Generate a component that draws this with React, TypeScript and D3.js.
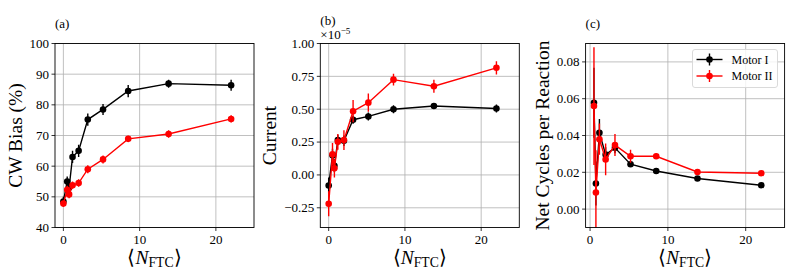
import React from "react";
import * as d3 from "d3";

// ---- data ----
const nFtc = [0, 0.5, 0.75, 1.2, 2.0, 3.2, 5.2, 8.5, 13.8, 22.0];
const biasMotorI = [48.5, 55.0, 53.0, 63.0, 65.0, 75.2, 78.5, 84.5, 86.9, 86.4];
const biasMotorIErr = [1.5, 1.6, 1.5, 2.0, 2.0, 2.0, 1.8, 2.0, 1.3, 1.8];
const biasMotorII = [47.8, 52.3, 50.8, 53.8, 54.5, 59.0, 62.2, 68.9, 70.5, 75.4];
const biasMotorIIErr = [1.0, 1.3, 1.3, 1.2, 1.2, 1.3, 1.3, 1.0, 1.2, 1.2];

const currentMotorI = [-0.08, 0.15, 0.07, 0.265, 0.26, 0.42, 0.445, 0.5, 0.525, 0.505];
const currentMotorIErr = [0.06, 0.05, 0.05, 0.04, 0.04, 0.03, 0.03, 0.03, 0.02, 0.03];
const currentMotorII = [-0.22, 0.157, 0.05, 0.252, 0.265, 0.485, 0.55, 0.725, 0.675, 0.815];
const currentMotorIIErr = [0.095, 0.085, 0.07, 0.06, 0.075, 0.085, 0.07, 0.045, 0.05, 0.05];

const nFtcCycles = [0.5, 0.75, 1.2, 2.0, 3.2, 5.2, 8.5, 13.8, 22.0];
const cyclesMotorI = [0.0578, 0.0139, 0.0415, 0.0296, 0.0333, 0.0244, 0.0207, 0.0166, 0.013];
const cyclesMotorIErr = [0.019, 0.012, 0.0075, 0.004, 0.003, 0.0015, 0.001, 0.0008, 0.0008];
const cyclesMotorII = [0.056, 0.009, 0.038, 0.027, 0.0348, 0.0287, 0.0287, 0.0202, 0.0195];
const cyclesMotorIIErr = [0.032, 0.023, 0.0085, 0.0086, 0.006, 0.0035, 0.0015, 0.001, 0.001];

const biasTicks = [40, 50, 60, 70, 80, 90, 100];
const currentTicks = [-0.25, 0, 0.25, 0.5, 0.75, 1.0];
const cyclesTicks = [0, 0.02, 0.04, 0.06, 0.08];
const xTicks = [0, 10, 20];
const seriesNames = ["Motor I", "Motor II"];
const seriesColors = ["#000000", "#ff0000"];

const FONT = "'Liberation Serif', 'Times New Roman', serif";
const TICK_FS = 13;
const LABEL_FS = 19.5;
const TITLE_FS = 13;
const LEGEND_FS = 12;

type Series = { x: number[]; y: number[]; e: number[]; color: string };

function Panel(props: {
  id: string;
  left: number;
  xDomain: [number, number];
  yDomain: [number, number];
  yTicks: number[];
  yFmt: (v: number) => string;
  series: Series[];
  title: string;
  titleY: number;
  ylabel: string;
  ylabelX: number;
  offsetText?: boolean;
  legend?: boolean;
}) {
  const top = 43.5, bottom = 227.5, width = 199;
  const x = d3.scaleLinear().domain(props.xDomain).range([props.left, props.left + width]);
  const y = d3.scaleLinear().domain(props.yDomain).range([bottom, top]);
  const line = d3
    .line<[number, number]>()
    .x((d) => x(d[0]))
    .y((d) => y(d[1]));
  const cx = props.left + width / 2;
  const cy = (top + bottom) / 2;
  return (
    <g>
      <defs>
        <clipPath id={props.id}>
          <rect x={props.left} y={top} width={width} height={bottom - top} />
        </clipPath>
      </defs>
      {xTicks.map((t) => (
        <line key={"gx" + t} x1={x(t)} x2={x(t)} y1={top} y2={bottom} stroke="#b0b0b0" strokeWidth={0.8} />
      ))}
      {props.yTicks.map((t) => (
        <line key={"gy" + t} x1={props.left} x2={props.left + width} y1={y(t)} y2={y(t)} stroke="#b0b0b0" strokeWidth={0.8} />
      ))}
      <g clipPath={`url(#${props.id})`}>
        {props.series.map((s, si) => (
          <g key={si}>
            <path d={line(s.x.map((v, i) => [v, s.y[i]]))!} fill="none" stroke={s.color} strokeWidth={1.4} />
            {s.x.map((v, i) => (
              <line key={"e" + i} x1={x(v)} x2={x(v)} y1={y(s.y[i] - s.e[i])} y2={y(s.y[i] + s.e[i])} stroke={s.color} strokeWidth={1.4} />
            ))}
            {s.x.map((v, i) => (
              <circle key={"c" + i} cx={x(v)} cy={y(s.y[i])} r={3.3} fill={s.color} />
            ))}
          </g>
        ))}
      </g>
      <rect x={props.left} y={top} width={width} height={bottom - top} fill="none" stroke="#000" strokeWidth={0.9} />
      {xTicks.map((t) => (
        <g key={"xt" + t}>
          <line x1={x(t)} x2={x(t)} y1={bottom} y2={bottom + 3.5} stroke="#000" strokeWidth={0.8} />
          <text x={x(t)} y={bottom + 16} textAnchor="middle" fontSize={TICK_FS} fontFamily={FONT}>
            {t}
          </text>
        </g>
      ))}
      {props.yTicks.map((t) => (
        <g key={"yt" + t}>
          <line x1={props.left - 3.5} x2={props.left} y1={y(t)} y2={y(t)} stroke="#000" strokeWidth={0.8} />
          <text x={props.left - 6} y={y(t) + TICK_FS * 0.34} textAnchor="end" fontSize={TICK_FS} fontFamily={FONT}>
            {props.yFmt(t)}
          </text>
        </g>
      ))}
      <text x={cx} y={264} textAnchor="middle" fontSize={LABEL_FS} fontFamily={FONT}>
        ⟨<tspan fontStyle="italic">N</tspan>
        <tspan fontSize={LABEL_FS * 0.7} dy={3}>FTC</tspan>
        <tspan dy={-3}>⟩</tspan>
      </text>
      <text
        transform={`translate(${props.ylabelX},${cy}) rotate(-90)`}
        textAnchor="middle"
        fontSize={LABEL_FS}
        fontFamily={FONT}
      >
        {props.ylabel}
      </text>
      <text x={props.left} y={props.titleY} fontSize={TITLE_FS} fontFamily={FONT}>
        {props.title}
      </text>
      {props.offsetText && (
        <text x={props.left} y={39} fontSize={TICK_FS} fontFamily={FONT}>
          ×10<tspan fontSize={TICK_FS * 0.7} dy={-5}>−5</tspan>
        </text>
      )}
      {props.legend && (
        <g>
          <rect x={692.5} y={49.5} width={85} height={38} rx={2.5} fill="#fff" fillOpacity={0.8} stroke="#d6d6d6" strokeWidth={0.9} />
          {seriesNames.map((n, i) => {
            const ly = 59.5 + i * 16.5;
            return (
              <g key={n}>
                <line x1={696.5} x2={722.5} y1={ly} y2={ly} stroke={seriesColors[i]} strokeWidth={1.4} />
                <line x1={709.5} x2={709.5} y1={ly - 6} y2={ly + 6} stroke={seriesColors[i]} strokeWidth={1.4} />
                <circle cx={709.5} cy={ly} r={3.3} fill={seriesColors[i]} />
                <text x={731.5} y={ly + 4} fontSize={LEGEND_FS} fontFamily={FONT}>
                  {n}
                </text>
              </g>
            );
          })}
        </g>
      )}
    </g>
  );
}

const fmtInt = (v: number) => String(v);
const fmt2 = (v: number) => (v < 0 ? "−" : "") + Math.abs(v).toFixed(2);

export default function App() {
  return (
    <svg width={797} height={280} style={{ position: "absolute", left: 0, top: 0, background: "#fff" }}>
      <rect width={797} height={280} fill="#fff" />
      <Panel
        id="clipA"
        left={55}
        xDomain={[-1.1, 25]}
        yDomain={[40, 100]}
        yTicks={biasTicks}
        yFmt={fmtInt}
        series={[
          { x: nFtc, y: biasMotorI, e: biasMotorIErr, color: seriesColors[0] },
          { x: nFtc, y: biasMotorII, e: biasMotorIIErr, color: seriesColors[1] },
        ]}
        title="(a)"
        titleY={28}
        ylabel="CW Bias (%)"
        ylabelX={22}
      />
      <Panel
        id="clipB"
        left={320.3}
        xDomain={[-1.1, 25]}
        yDomain={[-0.4, 1.0]}
        yTicks={currentTicks}
        yFmt={fmt2}
        series={[
          { x: nFtc, y: currentMotorI, e: currentMotorIErr, color: seriesColors[0] },
          { x: nFtc, y: currentMotorII, e: currentMotorIIErr, color: seriesColors[1] },
        ]}
        title="(b)"
        titleY={25}
        ylabel="Current"
        ylabelX={276}
        offsetText
      />
      <Panel
        id="clipC"
        left={585.6}
        xDomain={[-0.575, 25]}
        yDomain={[-0.01, 0.09]}
        yTicks={cyclesTicks}
        yFmt={fmt2}
        series={[
          { x: nFtcCycles, y: cyclesMotorI, e: cyclesMotorIErr, color: seriesColors[0] },
          { x: nFtcCycles, y: cyclesMotorII, e: cyclesMotorIIErr, color: seriesColors[1] },
        ]}
        title="(c)"
        titleY={28}
        ylabel="Net Cycles per Reaction"
        ylabelX={549}
        legend
      />
    </svg>
  );
}
